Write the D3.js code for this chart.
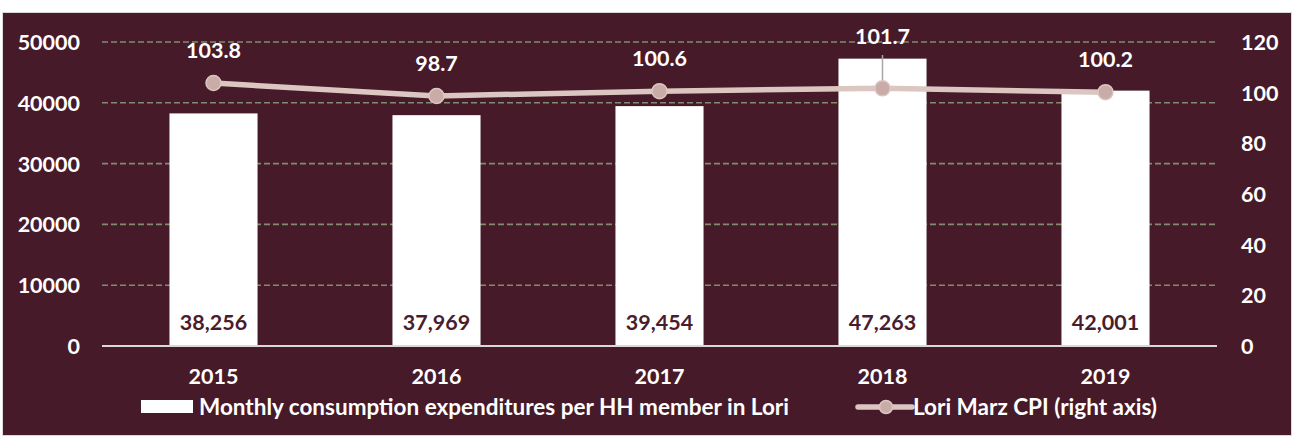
<!DOCTYPE html>
<html><head><meta charset="utf-8">
<script src="https://cdn.jsdelivr.net/npm/d3@7"></script>
<style>
html,body{margin:0;padding:0;background:#fff;}
text{font-family:Lato,"Open Sans",sans-serif;font-weight:700;}
</style></head>
<body><svg id="c" width="1294" height="437"></svg>
<script>
const years = ["2015","2016","2017","2018","2019"];
const expenditures = [38256, 37969, 39454, 47263, 42001];
const cpi = [103.8, 98.7, 100.6, 101.7, 100.2];
const leftTicks = [0, 10000, 20000, 30000, 40000, 50000];
const rightTicks = [0, 20, 40, 60, 80, 100, 120];
const barLegend = "Monthly consumption expenditures per HH member in Lori";
const lineLegend = "Lori Marz CPI (right axis)";

const FS = "21.5px";
const svg = d3.select("#c");
svg.append("rect").attr("x",2.5).attr("y",12.5).attr("width",1289).attr("height",423)
  .attr("fill","#461a29").attr("stroke","#d9d9d9").attr("stroke-width",1);

const L = 102, R = 1217, T = 42, B = 346;
const x = d3.scaleBand().domain(years).range([L,R]).paddingInner(0.605).paddingOuter(0.3025);
const yL = d3.scaleLinear().domain([0,50000]).range([B,T]);
const yR = d3.scaleLinear().domain([0,120]).range([B,T]);

// gridlines
svg.append("g").selectAll("line").data(leftTicks.filter(d=>d>0)).join("line")
  .attr("x1",L).attr("x2",R).attr("y1",d=>yL(d)).attr("y2",d=>yL(d))
  .attr("stroke","#7f8c70").attr("stroke-width",1.6).attr("stroke-dasharray","6,3");

// left axis
const ax = svg.append("g").attr("transform",`translate(${L},0)`)
  .call(d3.axisLeft(yL).tickValues(leftTicks).tickSize(0).tickPadding(22).tickFormat(d3.format("d")));
ax.select(".domain").remove();
ax.selectAll("text").attr("fill","#fff").style("font-size",FS).attr("dy","0.35em");

// right axis
const ar = svg.append("g").attr("transform",`translate(${R},0)`)
  .call(d3.axisRight(yR).tickValues(rightTicks).tickSize(0).tickPadding(24).tickFormat(d3.format("d")));
ar.select(".domain").remove();
ar.selectAll("text").attr("fill","#fff").style("font-size",FS).attr("dy","0.35em");

// bars
svg.append("g").selectAll("rect").data(years).join("rect")
  .attr("x",d=>x(d)).attr("width",x.bandwidth())
  .attr("y",(d,i)=>yL(expenditures[i])).attr("height",(d,i)=>B-yL(expenditures[i]))
  .attr("fill","#ffffff");

// bar labels
svg.append("g").selectAll("text").data(years).join("text")
  .attr("x",d=>x(d)+x.bandwidth()/2).attr("y",B-16)
  .attr("text-anchor","middle").attr("fill","#4a1d2c").style("font-size",FS)
  .text((d,i)=>d3.format(",")(expenditures[i]));

// x axis line
svg.append("line").attr("x1",L).attr("x2",R).attr("y1",B).attr("y2",B)
  .attr("stroke","#d9d9d9").attr("stroke-width",2);

// x labels
const axb = svg.append("g").attr("transform",`translate(0,${B})`)
  .call(d3.axisBottom(x).tickSize(0).tickPadding(23));
axb.select(".domain").remove();
axb.selectAll("text").attr("fill","#fff").style("font-size",FS);

// CPI line
const cx = d=>x(d)+x.bandwidth()/2;
const line = d3.line().x((d,i)=>cx(years[i])).y(d=>yR(d));
svg.append("path").datum(cpi).attr("d",line).attr("fill","none")
  .attr("stroke","#dcc6c2").attr("stroke-width",5.5).attr("stroke-linejoin","round");

// leader line for 2018
const i18 = years.indexOf("2018");
svg.append("line").attr("x1",cx("2018")).attr("x2",cx("2018"))
  .attr("y1",55).attr("y2",yR(cpi[i18]))
  .attr("stroke","#a6a6a6").attr("stroke-width",1.5);

svg.append("g").selectAll("circle").data(cpi).join("circle")
  .attr("cx",(d,i)=>cx(years[i])).attr("cy",d=>yR(d)).attr("r",7.5)
  .attr("fill","#c9aba7").attr("stroke","#dcc6c2").attr("stroke-width",1.5);

// CPI labels
svg.append("g").selectAll("text").data(cpi).join("text")
  .attr("x",(d,i)=>cx(years[i]))
  .attr("y",(d,i)=> years[i]==="2018" ? 44 : yR(d)-25)
  .attr("text-anchor","middle").attr("fill","#fff").style("font-size",FS)
  .text(d=>d3.format(".1f")(d));

// legend
const lg = svg.append("g");
lg.append("rect").attr("x",141).attr("y",400).attr("width",52).attr("height",13).attr("fill","#fff");
lg.append("text").attr("x",199).attr("y",415).attr("fill","#fff").style("font-size","22.5px").text(barLegend);
lg.append("line").attr("x1",858).attr("x2",912).attr("y1",407).attr("y2",407)
  .attr("stroke","#dcc6c2").attr("stroke-width",5.5).attr("stroke-linecap","round");
lg.append("circle").attr("cx",886).attr("cy",407).attr("r",6.5)
  .attr("fill","#c9aba7").attr("stroke","#dcc6c2").attr("stroke-width",1.5);
lg.append("text").attr("x",913).attr("y",415).attr("fill","#fff").style("font-size","22.5px").text(lineLegend);
</script></body></html>
